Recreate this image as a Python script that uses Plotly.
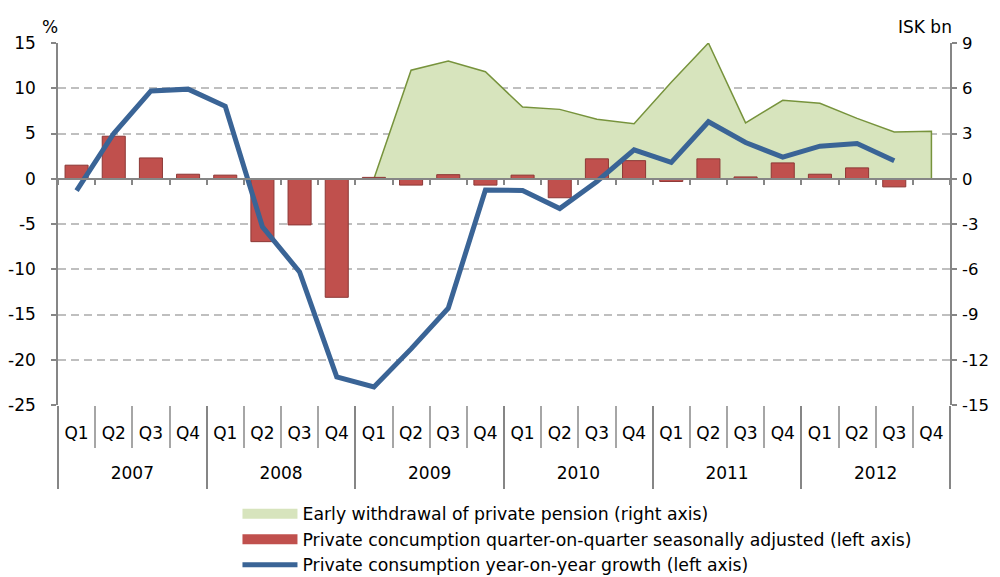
import plotly.graph_objects as go

years = ["2007"] * 4 + ["2008"] * 4 + ["2009"] * 4 + ["2010"] * 4 + ["2011"] * 4 + ["2012"] * 4
quarters = ["Q1", "Q2", "Q3", "Q4"] * 6

# Early withdrawal of private pension, ISK bn (right axis)
pension = [None, None, None, None, None, None, None, None,
           0.0, 7.2, 7.8, 7.1, 4.75, 4.6, 3.95, 3.65,
           6.4, 9.0, 3.7, 5.2, 5.0, 4.0, 3.1, 3.15]
# Private consumption q-o-q seasonally adjusted, % (left axis)
qoq = [1.5, 4.7, 2.3, 0.5, 0.4, -6.95, -5.1, -13.1,
       0.15, -0.7, 0.45, -0.7, 0.4, -2.1, 2.2, 2.0,
       -0.3, 2.2, 0.2, 1.75, 0.5, 1.2, -0.9, None]
# Private consumption y-o-y growth, % (left axis)
yoy = [-1.3, 5.0, 9.7, 9.9, 8.0, -5.3, -10.3, -21.9,
       -23.0, -18.8, -14.3, -1.25, -1.3, -3.3, -0.3, 3.2,
       1.8, 6.3, 4.0, 2.4, 3.6, 3.9, 2.0, None]

left_ticks = [15, 10, 5, 0, -5, -10, -15, -20, -25]
right_ticks = [9, 6, 3, 0, -3, -6, -9, -12, -15]

names = ["Early withdrawal of private pension (right axis)",
         "Private concumption quarter-on-quarter seasonally adjusted (left axis)",
         "Private consumption year-on-year growth (left axis)"]

FONT = "'DejaVu Sans', 'Open Sans', sans-serif"
AXIS = "#868686"
GRID = "#BFBFBF"
SEP = "#A6A6A6"
GREEN_FILL, GREEN_LINE = "#D7E4BD", "#77933C"
RED, RED_EDGE = "#C0504D", "#8C3836"
BLUE = "#3A6496"

# one unique category key per quarter
keys = [f"{y} {q}" for y, q in zip(years, quarters)]

# close the area down to zero at its last point
last = max(i for i, v in enumerate(pension) if v is not None)
area_x = keys + [keys[last]]
area_y = pension + [0.0]

fig = go.Figure()
fig.add_trace(go.Scatter(
    x=area_x, y=area_y, mode="lines", fill="tozeroy",
    fillcolor=GREEN_FILL, line=dict(color=GREEN_LINE, width=1.5),
    name=names[0], showlegend=False, xaxis="x", yaxis="y"))
fig.add_trace(go.Bar(
    x=keys, y=qoq, marker=dict(color=RED, line=dict(color=RED_EDGE, width=1)),
    name=names[1], showlegend=False, xaxis="x", yaxis="y2"))
fig.add_trace(go.Scatter(
    x=keys, y=yoy, mode="lines", line=dict(color=BLUE, width=5),
    name=names[2], showlegend=False, xaxis="x", yaxis="y2"))
# carriers for the zero-level axis (x3) and the year-group axis (x4)
fig.add_trace(go.Scatter(x=keys, y=[None] * len(keys), xaxis="x3", yaxis="y2",
                         showlegend=False, hoverinfo="skip", mode="lines"))
fig.add_trace(go.Scatter(x=years, y=[None] * len(years), xaxis="x4", yaxis="y2",
                         showlegend=False, hoverinfo="skip", mode="lines"))

# legend entries with wide swatches
for nm, col, w in [(names[0], GREEN_FILL, 11), (names[1], RED, 11), (names[2], BLUE, 5)]:
    fig.add_trace(go.Scatter(x=[None], y=[None], mode="lines", name=nm,
                             line=dict(color=col, width=w), xaxis="x", yaxis="y2",
                             hoverinfo="skip"))

n_years = len(dict.fromkeys(years))

fig.update_layout(
    width=992, height=600,
    margin=dict(l=50, r=50, t=35, b=203),
    paper_bgcolor="white", plot_bgcolor="white",
    font=dict(family=FONT, size=17, color="#000000"),
    bargap=0.38,
    showlegend=True,
    legend=dict(x=0.2012, xanchor="left", y=-0.2513, yanchor="top",
                orientation="v", font=dict(size=17.3), itemwidth=55,
                traceorder="normal", bgcolor="rgba(0,0,0,0)", tracegroupgap=0),
    xaxis=dict(type="category", anchor="y", side="bottom", automargin=False,
               categoryorder="array", categoryarray=keys,
               tickmode="array", tickvals=keys, ticktext=quarters,
               showline=False, showgrid=False, zeroline=False,
               ticks="outside", tickson="boundaries", ticklen=42,
               tickcolor=SEP, tickwidth=1.5, ticklabelstandoff=16,
               tickfont=dict(size=17), range=[-0.5, len(keys) - 0.5]),
    xaxis3=dict(type="category", overlaying="x", anchor="free", position=0.625,
                automargin=False, categoryorder="array", categoryarray=keys,
                showline=True, linecolor=AXIS, linewidth=1.5,
                ticks="outside", tickson="boundaries", ticklen=5,
                tickcolor=AXIS, tickwidth=1.5, showticklabels=False,
                showgrid=False, zeroline=False, range=[-0.5, len(keys) - 0.5]),
    xaxis4=dict(type="category", overlaying="x", anchor="free", position=0,
                automargin=False, showline=False, showgrid=False, zeroline=False,
                ticks="outside", tickson="boundaries", ticklen=83,
                tickcolor=AXIS, tickwidth=1.5, ticklabelstandoff=56,
                tickfont=dict(size=17), dtick=1, range=[-0.5, n_years - 0.5]),
    yaxis=dict(side="right", range=[-15, 9], tickvals=right_ticks,
               ticktext=[str(v) for v in right_ticks], automargin=False,
               showline=True, linecolor=AXIS, linewidth=1.5,
               ticks="outside", ticklen=5, tickcolor=AXIS, tickwidth=1.5,
               showgrid=True, gridcolor=GRID, gridwidth=1.5, griddash="8px,5px",
               zeroline=False, tickfont=dict(size=16.5), ticklabelstandoff=2),
    yaxis2=dict(side="left", overlaying="y", range=[-25, 15], tickvals=left_ticks,
                ticktext=[str(v) for v in left_ticks], automargin=False,
                showline=True, linecolor=AXIS, linewidth=1.5,
                ticks="outside", ticklen=5, tickcolor=AXIS, tickwidth=1.5,
                showgrid=False, zeroline=False, tickfont=dict(size=17),
                ticklabelstandoff=12),
    annotations=[
        dict(text="%", xref="paper", yref="paper", x=-0.009, y=1.0, yshift=16,
             showarrow=False, xanchor="center", yanchor="middle", font=dict(size=17)),
        dict(text="ISK bn", xref="paper", yref="paper", x=0.972, y=1.0, yshift=16,
             showarrow=False, xanchor="center", yanchor="middle", font=dict(size=17)),
    ],
)

fig.write_html("out.html")
